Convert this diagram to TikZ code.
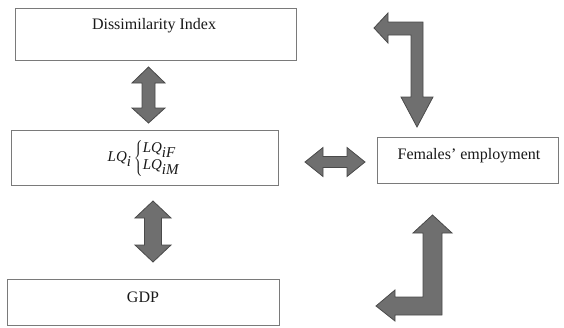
\documentclass[tikz,border=0pt]{standalone}
\usepackage{fontspec}
\setmainfont{Liberation Serif}
\definecolor{boxgray}{HTML}{7A7A7A}
\definecolor{arrowfill}{HTML}{6F6F6F}
\definecolor{arrowedge}{HTML}{4A4A4A}
\newcommand{\lqit}[1]{\textit{#1}}
\begin{document}
\begin{tikzpicture}[x=1pt,y=-1pt,
  box/.style={draw=boxgray, line width=1pt, fill=white, inner sep=0pt, anchor=north west},
  lbl/.style={inner sep=0pt, font=\fontsize{16}{18}\selectfont, text=black!90},
  mathlbl/.style={inner sep=0pt, font=\fontsize{15}{17}\selectfont, text=black!90},
  blockarrow/.style={fill=arrowfill, draw=arrowedge, line width=0.8pt, line join=miter}]
\useasboundingbox (0,0) rectangle (564,327);
% boxes
\node[box, minimum width=281pt, minimum height=52pt] (dis) at (15,8) {};
\node[box, minimum width=267pt, minimum height=55pt] (lq) at (11,130) {};
\node[box, minimum width=181pt, minimum height=46pt] (fem) at (377,137) {};
\node[box, minimum width=272pt, minimum height=46pt] (gdp) at (7,279) {};
% labels
\node[lbl] (distxt) at (154,26) {Dissimilarity Index};
\node[mathlbl] (lqtxt) at (144,158) {$\lqit{LQ}_{\lqit{i}}\left\{\begin{array}{@{}l@{}}\lqit{LQ}_{\lqit{iF}}\\[0pt]\lqit{LQ}_{\lqit{iM}}\end{array}\right.$};
\node[lbl] (femtxt) at (469,156) {Females' employment};
\node[lbl] (gdptxt) at (143,297) {GDP};
% vertical double arrow 1
\draw[blockarrow] (148.5,67) -- (165,83) -- (155,83) -- (155,108) -- (165,108) -- (148.5,123)
  -- (132,108) -- (142,108) -- (142,83) -- (132,83) -- cycle;
% vertical double arrow 2
\draw[blockarrow] (153,201) -- (171,218) -- (161.5,218) -- (161.5,245) -- (171,245) -- (153,262)
  -- (135,245) -- (144.5,245) -- (144.5,218) -- (135,218) -- cycle;
% horizontal double arrow
\draw[blockarrow] (305,162) -- (323,147.5) -- (323,156.5) -- (347,156.5) -- (347,147.5) -- (365,162)
  -- (347,176.5) -- (347,167.5) -- (323,167.5) -- (323,176.5) -- cycle;
% top bent arrow
\draw[blockarrow] (374,28) -- (388,13) -- (388,22) -- (423,22) -- (423,97) -- (433,97) -- (417,127)
  -- (401,97) -- (411,97) -- (411,35) -- (388,35) -- (388,43) -- cycle;
% bottom bent arrow
\draw[blockarrow] (432.5,215) -- (452,233) -- (442,233) -- (442,315) -- (395,315) -- (395,321)
  -- (376,306) -- (395,290) -- (395,297) -- (423,297) -- (423,233) -- (413,233) -- cycle;
\end{tikzpicture}
\end{document}
